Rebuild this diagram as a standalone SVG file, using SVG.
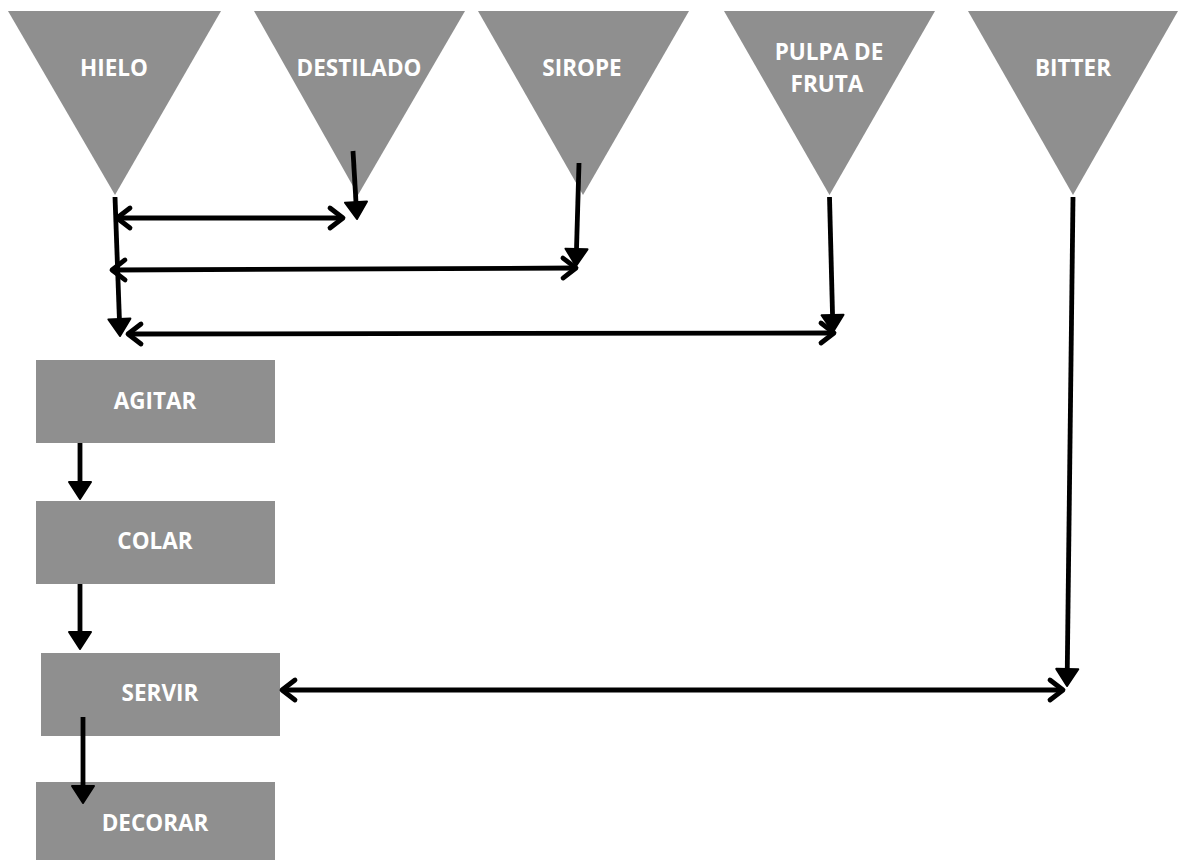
<svg xmlns="http://www.w3.org/2000/svg" width="1178" height="860" viewBox="0 0 1178 860">
<style>
.shape{fill:#8f8f8f}
.lbl{font-family:"Open Sans","Noto Sans","Liberation Sans",sans-serif;font-weight:700;font-size:22.5px;fill:#ffffff;text-anchor:middle}
.con{stroke:#000;stroke-width:4.8;fill:none;stroke-linecap:butt}
</style>
<defs>
<marker id="chev" markerUnits="userSpaceOnUse" viewBox="-20 -15 30 30" markerWidth="30" markerHeight="30" refX="0" refY="0" orient="auto-start-reverse">
<path d="M-13,-10 L0,0 L-13,10" fill="none" stroke="#000" stroke-width="4.8" stroke-linecap="round" stroke-linejoin="round"/>
</marker>
<marker id="tri" markerUnits="userSpaceOnUse" viewBox="-20 -15 30 30" markerWidth="30" markerHeight="30" refX="0" refY="0" orient="auto">
<path d="M-14,-11 L3,0 L-14,11 Z" fill="#000" stroke="#000" stroke-width="2" stroke-linejoin="round"/>
</marker>
</defs>
<rect width="1178" height="860" fill="#fff"/>
<g id="hielo"><polygon class="shape" points="8,11 221,11 115,195"/><text class="lbl" x="114" y="76">HIELO</text></g>
<g id="destilado"><polygon class="shape" points="254,11 465,11 358,195"/><text class="lbl" x="359" y="76">DESTILADO</text></g>
<g id="sirope"><polygon class="shape" points="478,11 689,11 583,195"/><text class="lbl" x="582" y="76">SIROPE</text></g>
<g id="pulpa"><polygon class="shape" points="724,11 935,11 829.5,195"/><text class="lbl" x="829" y="60">PULPA DE</text><text class="lbl" x="827" y="92">FRUTA</text></g>
<g id="bitter"><polygon class="shape" points="968,11 1178,11 1073,195"/><text class="lbl" x="1073" y="76">BITTER</text></g>
<g id="agitar"><rect class="shape" x="36" y="360" width="239" height="83"/><text class="lbl" x="155" y="409">AGITAR</text></g>
<g id="colar"><rect class="shape" x="36" y="501" width="239" height="83"/><text class="lbl" x="155" y="549">COLAR</text></g>
<g id="servir"><rect class="shape" x="41" y="653" width="239" height="83"/><text class="lbl" x="160" y="701">SERVIR</text></g>
<g id="decorar"><rect class="shape" x="36" y="782" width="239" height="90"/><text class="lbl" x="155" y="831">DECORAR</text></g>
<g id="connectors">
<path class="con" d="M115,197 L119.9,333" marker-end="url(#tri)"/>
<path class="con" d="M353,151 L356.8,216" marker-end="url(#tri)"/>
<path class="con" d="M579,163 L576.1,263" marker-end="url(#tri)"/>
<path class="con" d="M829.5,197 L832.9,329" marker-end="url(#tri)"/>
<path class="con" d="M1073,197 L1067.1,683" marker-end="url(#tri)"/>
<path class="con" d="M80,443 L80,496" marker-end="url(#tri)"/>
<path class="con" d="M80,584 L80,646" marker-end="url(#tri)"/>
<path class="con" d="M83,717 L83,800" marker-end="url(#tri)"/>
<path class="con" d="M117,218 L343,218" marker-start="url(#chev)" marker-end="url(#chev)"/>
<path class="con" d="M112,270 L576,268" marker-start="url(#chev)" marker-end="url(#chev)"/>
<path class="con" d="M128,334 L834,333" marker-start="url(#chev)" marker-end="url(#chev)"/>
<path class="con" d="M282,690 L1063,690" marker-start="url(#chev)" marker-end="url(#chev)"/>
</g>
</svg>
